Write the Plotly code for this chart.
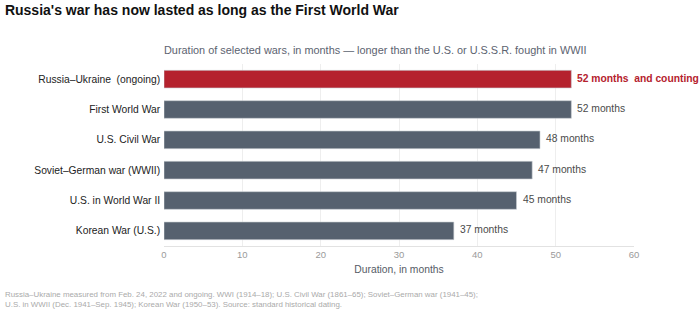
import plotly.graph_objects as go

categories = ["Russia–Ukraine  (ongoing)", "First World War", "U.S. Civil War",
              "Soviet–German war (WWII)", "U.S. in World War II", "Korean War (U.S.)"]
values = [52, 52, 48, 47, 45, 37]
labels = ["<b>52 months  and counting</b>", "52 months", "48 months", "47 months", "45 months", "37 months"]
highlight = [True, False, False, False, False, False]
x_ticks = [0, 10, 20, 30, 40, 50, 60]

RED = "#B5222E"
GRAY = "#56616F"
FONT = "Liberation Sans, Arial, sans-serif"

colors = [RED if h else GRAY for h in highlight]
text_colors = [RED if h else "#4a4a4a" for h in highlight]

fig = go.Figure(go.Bar(
    x=values, y=categories, orientation="h",
    marker=dict(color=colors, line=dict(color="#c8ccd2", width=0.6)),
    hoverinfo="skip",
))

for cat, v, lab, tc in zip(categories, values, labels, text_colors):
    fig.add_annotation(x=v, y=cat, xref="x", yref="y", text=lab, showarrow=False,
                       xanchor="left", yanchor="middle", xshift=4, yshift=1,
                       font=dict(size=10.3, color=tc, family=FONT))

fig.update_layout(
    width=700, height=311,
    margin=dict(l=164, r=66, t=64, b=65),
    paper_bgcolor="white", plot_bgcolor="white",
    font=dict(family=FONT, color="#333333"),
    bargap=0.42,
    showlegend=False,
    title=dict(text="<b>Russia's war has now lasted as long as the First World War</b>",
               x=0.007, xanchor="left", y=0.968, yanchor="middle",
               font=dict(size=14, color="#111111")),
    xaxis=dict(range=[0, 60], tickvals=x_ticks, showgrid=True, gridcolor="#eeeeee",
               zeroline=False, showline=True, linecolor="#e2e2e2", linewidth=1,
               tickfont=dict(size=9.5, color="#9a9a9a"), ticks="",
               title=dict(text="Duration, in months", font=dict(size=10.3, color="#555b66"), standoff=6)),
    yaxis=dict(autorange="reversed", tickfont=dict(size=10.3, color="#222222"), ticks="",
               showgrid=False, ticksuffix=" "),
)

fig.add_annotation(text="Duration of selected wars, in months — longer than the U.S. or U.S.S.R. fought in WWII",
                   xref="paper", yref="paper", x=0, y=1, yshift=14, xshift=-2, xanchor="left", yanchor="middle",
                   showarrow=False, font=dict(size=10.9, color="#5c6370"))

fig.add_annotation(text="Russia–Ukraine measured from Feb. 24, 2022 and ongoing. WWI (1914–18); U.S. Civil War (1861–65); Soviet–German war (1941–45);<br>U.S. in WWII (Dec. 1941–Sep. 1945); Korean War (1950–53). Source: standard historical dating.",
                   xref="paper", yref="paper", x=-161/470, y=0, yshift=-53, xanchor="left", yanchor="middle",
                   align="left", showarrow=False, font=dict(size=7.9, color="#aaaaaa"))

fig.write_html("out.html")
